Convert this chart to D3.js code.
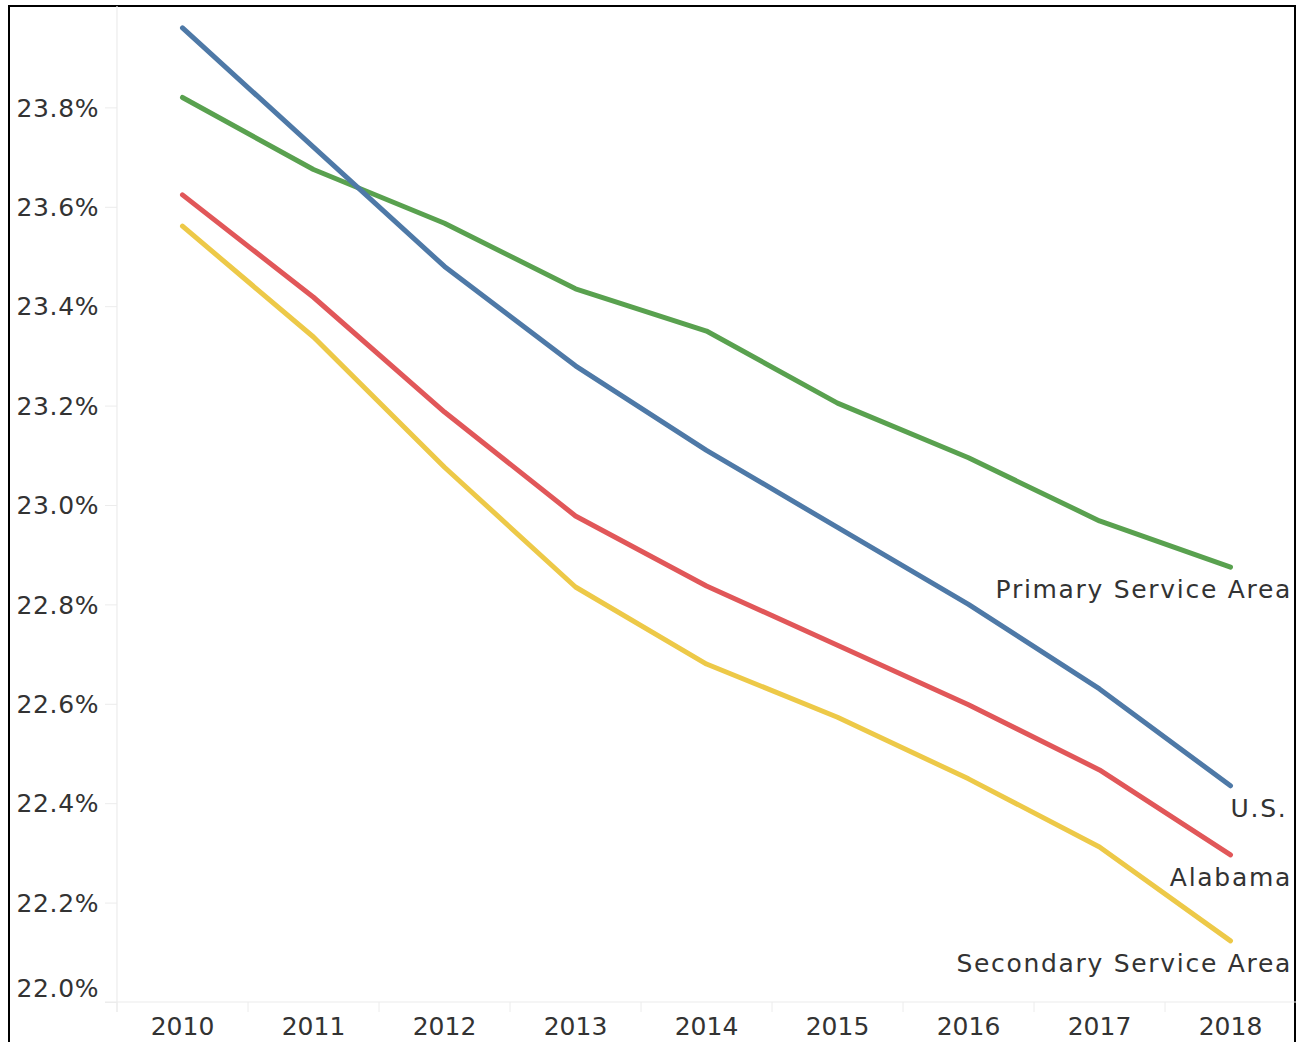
<!DOCTYPE html>
<html>
<head>
<meta charset="utf-8">
<script src="https://cdn.jsdelivr.net/npm/d3@7"></script>
<style>
  body { margin: 0; background: #fff; }
  text { font-family: "DejaVu Sans", sans-serif; fill: #333; }
</style>
</head>
<body>
<div id="chart"></div>
<script>
// data (percent)
const years = ["2010", "2011", "2012", "2013", "2014", "2015", "2016", "2017", "2018"];
const usValues = [23.96, 23.72, 23.48, 23.28, 23.11, 22.955, 22.80, 22.63, 22.435];
const primaryValues = [23.82, 23.675, 23.567, 23.435, 23.35, 23.205, 23.095, 22.968, 22.875];
const alabamaValues = [23.624, 23.418, 23.187, 22.978, 22.837, 22.718, 22.598, 22.467, 22.296];
const secondaryValues = [23.561, 23.338, 23.076, 22.835, 22.68, 22.573, 22.449, 22.312, 22.123];
const seriesNames = ["Primary Service Area", "U.S.", "Alabama", "Secondary Service Area"];
const yTicks = [22.0, 22.2, 22.4, 22.6, 22.8, 23.0, 23.2, 23.4, 23.6, 23.8];

const series = [
  {name: seriesNames[0], values: primaryValues, color: "#59a14f"},
  {name: seriesNames[1], values: usValues, color: "#4e79a7"},
  {name: seriesNames[2], values: alabamaValues, color: "#e15759"},
  {name: seriesNames[3], values: secondaryValues, color: "#edc948"}
];

// set the dimensions and margins of the graph
var margin = {top: 8, right: 8, bottom: 40, left: 117},
    width = 1304 - margin.left - margin.right,
    height = 1042 - margin.top - margin.bottom;

const svg = d3.select("#chart")
.append("svg")
.attr("width", 1304)
.attr("height", 1042);

// black frame round everything
svg.append("rect")
.attr("x", 9).attr("y", 6)
.attr("width", 1286).attr("height", 1050)
.attr("fill", "none")
.attr("stroke", "#000")
.attr("stroke-width", 2);

const g = svg.append("g")
.attr("transform", `translate(${margin.left}, ${margin.top})`);

// X scale: one band per year, points in the middle
const x = d3.scaleBand()
.domain(years)
.range([0, width]);
const xc = d => x(d) + x.bandwidth() / 2;

// Y scale
const y = d3.scaleLinear()
.domain([22.0, 24.0])
.range([height, 0]);

// y axis line and ticks
g.append("line")
.attr("x1", 0).attr("x2", 0)
.attr("y1", -2).attr("y2", height + 10)
.attr("stroke", "#ececec").attr("stroke-width", 1.2);

const yAxis = g.append("g")
.call(d3.axisLeft(y).tickValues(yTicks).tickSize(12).tickFormat(d => d3.format(".1f")(d) + "%"));
yAxis.select(".domain").remove();
yAxis.selectAll(".tick line").attr("stroke", "#ececec");
yAxis.selectAll(".tick text")
.attr("x", -18)
.style("font-size", "25px")
.style("letter-spacing", "0.6px")
.attr("fill", "#333")
.attr("dy", d => d === 22.0 ? "-0.22em" : "0.35em");

// x axis line, boundary ticks and centred labels
g.append("line")
.attr("x1", -12).attr("x2", width)
.attr("y1", height).attr("y2", height)
.attr("stroke", "#ececec").attr("stroke-width", 1.2);

g.append("g")
.selectAll("line")
.data(years)
.join("line")
.attr("x1", d => x(d)).attr("x2", d => x(d))
.attr("y1", height).attr("y2", height + 10)
.attr("stroke", "#ececec");

const xAxis = g.append("g")
.attr("transform", `translate(0, ${height})`)
.call(d3.axisBottom(x).tickSize(0).tickPadding(15));
xAxis.select(".domain").remove();
xAxis.selectAll(".tick text")
.style("font-size", "25px")
.attr("fill", "#333");

// lines
const line = d3.line()
.x((d, i) => xc(years[i]))
.y(d => y(d));

g.append("g")
.selectAll("path")
.data(series)
.join("path")
.attr("d", d => line(d.values))
.attr("fill", "none")
.attr("stroke", d => d.color)
.attr("stroke-width", 5)
.attr("stroke-linejoin", "round")
.attr("stroke-linecap", "round");

// end labels, placed under the last point and kept inside the pane
const labels = g.append("g")
.selectAll("text")
.data(series)
.join("text")
.attr("x", d => xc(years[years.length - 1]))
.attr("y", d => y(d.values[d.values.length - 1]) + 22)
.attr("dy", "0.35em")
.style("font-size", "25px")
.style("letter-spacing", "1.7px")
.text(d => d.name);

labels.each(function() {
  const w = this.getComputedTextLength();
  const x0 = +d3.select(this).attr("x");
  if (x0 + w > width - 4) d3.select(this).attr("x", width - 4 - w);
});
</script>
</body>
</html>
